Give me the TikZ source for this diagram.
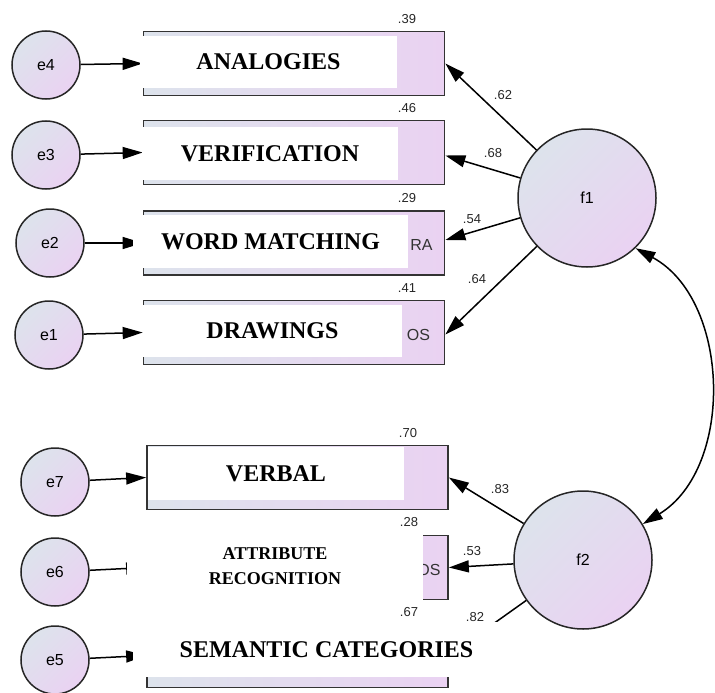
\documentclass[tikz,border=0pt]{standalone}
\usepackage{fontspec}
\setmainfont{Liberation Serif}
\newfontfamily\arialfont{Liberation Sans}
\usetikzlibrary{arrows.meta}
\definecolor{amosblue}{HTML}{DDE3EC}
\definecolor{amospink}{HTML}{EAD2F2}

\begin{document}
\begin{tikzpicture}[x=1pt,y=-1pt,
  obsbox/.style={rectangle, draw=black!80, line width=1.7pt, minimum width=301pt, minimum height=64pt, inner sep=0pt, left color=amosblue, right color=amospink},
  errnode/.style={circle, draw=black!85, line width=1.5pt, minimum size=68pt, inner sep=0pt, top color=amosblue, bottom color=amospink, shading angle=45, font=\arialfont\fontsize{16}{18}\selectfont},
  latnode/.style={errnode, minimum size=138pt},
  cover/.style={rectangle, fill=white, inner sep=0pt, font=\fontsize{24}{26}\selectfont\bfseries},
  remnant/.style={font=\arialfont\fontsize{16}{18}\selectfont, text=black!80},
  coef/.style={font=\arialfont\fontsize{13}{15}\selectfont, text=black!85},
  path/.style={line width=1.5pt, -{Triangle[length=20pt, width=12pt]}}
]
\useasboundingbox (0,0) rectangle (715,693);
\node[obsbox] (b4) at (294,63.5) {};
\node[obsbox] (b3) at (294,152.5) {};
\node[obsbox] (b2) at (294,243) {};
\node[obsbox] (b1) at (294,332.5) {};
\node[obsbox] (b7) at (297.5,477.5) {};
\node[obsbox] (b6) at (297.5,567.5) {};
\node[obsbox] (b5) at (297.5,655.5) {};
\node[remnant] (r2) at (421.5,245) {RA};
\node[remnant] (r1) at (418.5,335) {OS};
\node[remnant] (r6) at (429,570) {OS};

\node[errnode] (e4) at (46,65) {e4};
\node[errnode] (e3) at (46,155) {e3};
\node[errnode] (e2) at (50,243) {e2};
\node[errnode] (e1) at (49,335) {e1};
\node[errnode] (e7) at (55,482) {e7};
\node[errnode] (e6) at (55,572) {e6};
\node[errnode] (e5) at (55,660) {e5};
\node[latnode] (f1) at (587,198) {f1};
\node[latnode] (f2) at (583,560) {f2};

\draw[path] (e4) -- (b4.west);
\draw[path] (e3) -- (b3.west);
\draw[path] (e2) -- (b2.west);
\draw[path] (e1) -- (b1.west);
\draw[path] (e7) -- (b7.west);
\draw[path] (e6) -- (b6.west);
\draw[path] (e5) -- (b5.west);
\draw[path] (f1) -- (b4.east);
\draw[path] (f1) -- ([yshift=-3pt]b3.east);
\draw[path] (f1) -- ([yshift=3pt]b2.east);
\draw[path] (f1) -- ([yshift=-2pt]b1.east);
\draw[path] (f2) -- (b7.east);
\draw[path] (f2) -- (b6.east);
\draw[path] (f2) -- (b5.east);
\draw[line width=1.5pt, {Triangle[length=20pt, width=12pt]}-{Triangle[length=20pt, width=12pt]}] (f1.-46) to[bend left=60] (f2.31);

\node[cover, minimum width=257pt, minimum height=52pt] (l4) at (268.5,62) {ANALOGIES};
\node[cover, minimum width=256pt, minimum height=53pt] (l3) at (270,153.5) {VERIFICATION};
\node[cover, minimum width=275pt, minimum height=53pt] (l2) at (270.5,241.5) {WORD MATCHING};
\node[cover, minimum width=259pt, minimum height=52pt] (l1) at (272.5,331) {DRAWINGS};
\node[cover, minimum width=256pt, minimum height=53pt] (l7) at (276,473.5) {VERBAL};
\node[cover, minimum width=296pt, minimum height=92pt, align=center, font=\fontsize{18}{25}\selectfont\bfseries] (l6) at (275,566) {ATTRIBUTE\\RECOGNITION};
\node[cover, minimum width=387pt, minimum height=55pt] (l5) at (326.5,649.5) {SEMANTIC CATEGORIES};

\node[coef] at (407,19) {.39};
\node[coef] at (407,108) {.46};
\node[coef] at (407,198) {.29};
\node[coef] at (407,288) {.41};
\node[coef] at (408,433) {.70};
\node[coef] at (409,522) {.28};
\node[coef] at (409,612) {.67};
\node[coef] at (503,95) {.62};
\node[coef] at (493,153) {.68};
\node[coef] at (472,219) {.54};
\node[coef] at (477,279) {.64};
\node[coef] at (500,489) {.83};
\node[coef] at (472,551) {.53};
\node[coef] at (475,617) {.82};
\end{tikzpicture}
\end{document}
